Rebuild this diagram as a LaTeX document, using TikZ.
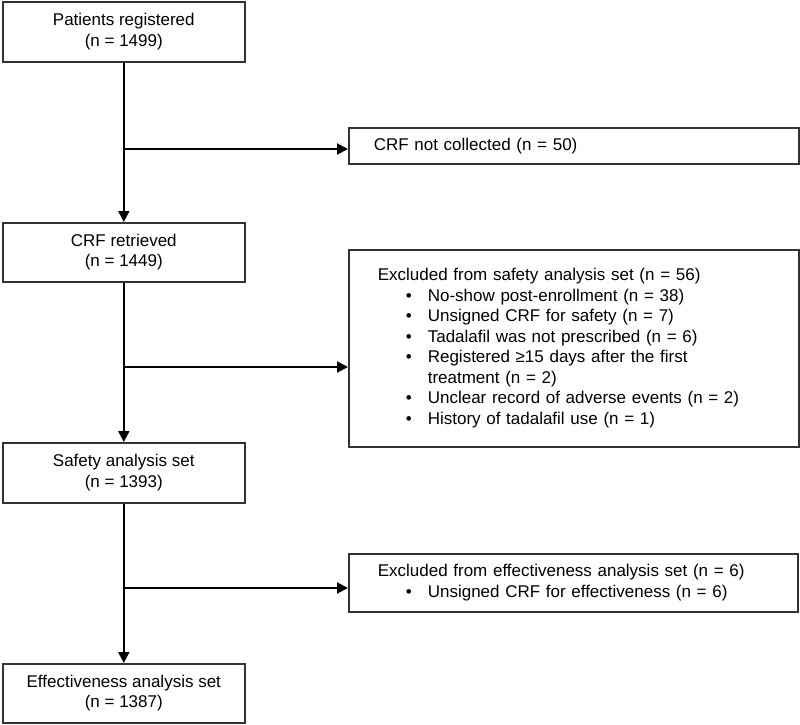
\documentclass[tikz,border=0pt]{standalone}
\usepackage{fontspec}
\setmainfont{Liberation Sans}
\usetikzlibrary{arrows.meta}
\newcommand\bul{\makebox[50pt][l]{\hspace*{28pt}•}}
\newcommand\hangind{\hspace*{50pt}}
\begin{document}
\begin{tikzpicture}[x=1pt,y=-1pt,
  font=\fontsize{17pt}{20.5pt}\selectfont,
  box/.style={draw=black!80, line width=1.6pt, anchor=north west, minimum width=242pt, align=center, inner sep=0pt},
  sidebox/.style={draw=black!80, line width=1.6pt, anchor=north west, align=left, inner ysep=0pt},
  conn/.style={line width=2pt, -{Triangle[length=11pt,width=11pt]}}]
\useasboundingbox (0,0) rectangle (800,724);
\node[box, minimum height=60pt] (reg) at (2,1) {Patients registered\\(n = 1499)};
\node[box, minimum height=59pt] (ret) at (2,222) {CRF retrieved\\(n = 1449)};
\node[box, minimum height=60pt] (saf) at (2,442) {Safety analysis set\\(n = 1393)};
\node[box, minimum height=59pt] (eff) at (2,663) {Effectiveness analysis set\\(n = 1387)};
\node[sidebox, minimum height=36pt, text width=400pt, inner xsep=25pt] (nc) at (348,127) {CRF not collected (n = 50)};
\node[sidebox, minimum height=197pt, text width=392pt, inner xsep=29pt] (exs) at (348,249) {Excluded from safety analysis set (n = 56)\\
\bul No-show post-enrollment (n = 38)\\
\bul Unsigned CRF for safety (n = 7)\\
\bul Tadalafil was not prescribed (n = 6)\\
\bul Registered ≥15 days after the first\\
\hangind treatment (n = 2)\\
\bul Unclear record of adverse events (n = 2)\\
\bul History of tadalafil use (n = 1)};
\node[sidebox, minimum height=58pt, text width=391pt, inner xsep=29pt] (exe) at (348,553) {Excluded from effectiveness analysis set (n = 6)\\
\bul Unsigned CRF for effectiveness (n = 6)};
\coordinate (j1) at (123,149);
\coordinate (j2) at (123,367);
\coordinate (j3) at (123,588);
\draw[conn] (reg) -- (ret);
\draw[conn] (ret) -- (saf);
\draw[conn] (saf) -- (eff);
\draw[conn] (j1) -- (j1 -| nc.west);
\draw[conn] (j2) -- (j2 -| exs.west);
\draw[conn] (j3) -- (j3 -| exe.west);
\end{tikzpicture}
\end{document}
